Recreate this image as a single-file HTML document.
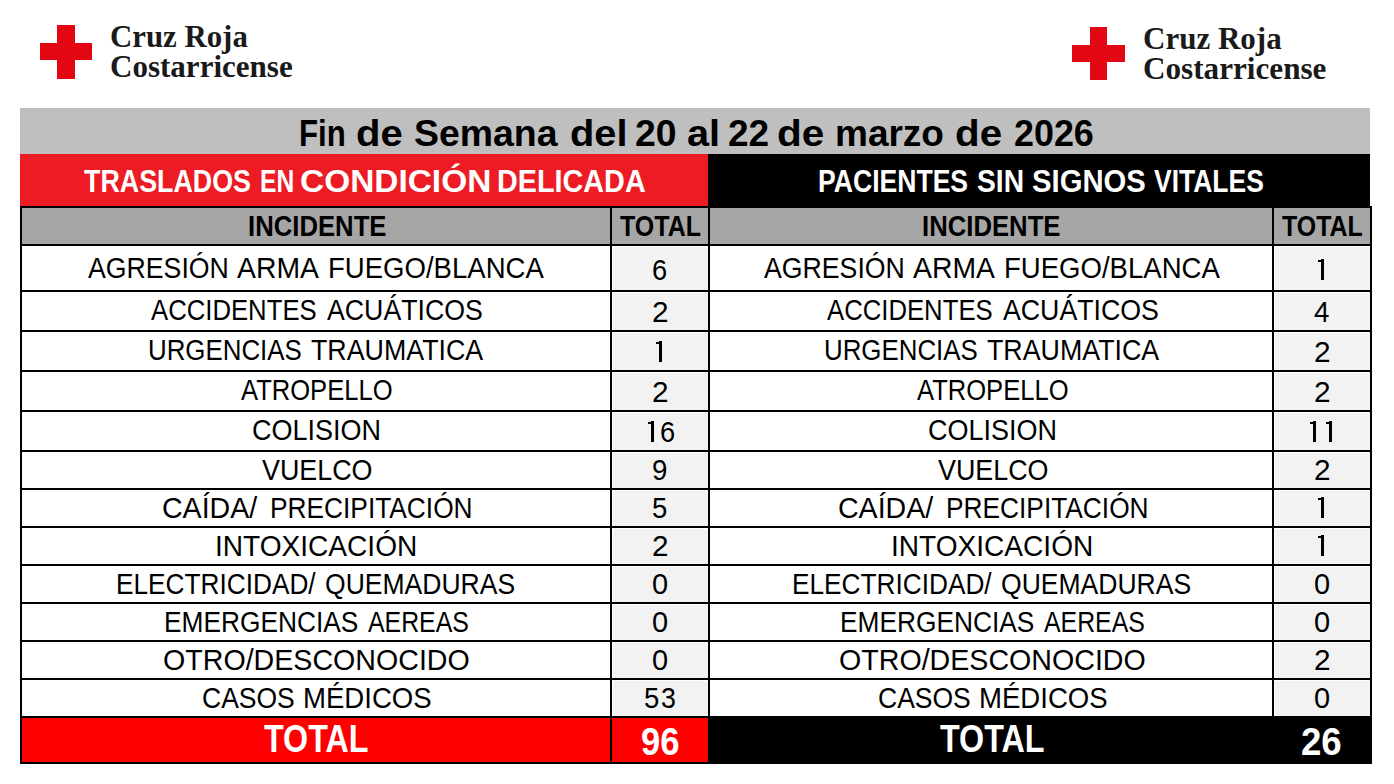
<!DOCTYPE html>
<html><head><meta charset="utf-8"><title>Cruz Roja</title>
<style>
html,body{margin:0;padding:0;background:#fff}
body{width:1394px;height:784px;position:relative;overflow:hidden;font-family:"Liberation Sans", sans-serif}
.r{position:absolute}
.t{position:absolute;white-space:nowrap;transform-origin:0 0}
</style></head><body>
<div class="r" style="left:20px;top:108px;width:1350px;height:46px;background:#bfbfbf"></div>
<div class="r" style="left:20px;top:154px;width:688px;height:52px;background:#ed1c24"></div>
<div class="r" style="left:708px;top:154px;width:662px;height:52px;background:#000"></div>
<div class="r" style="left:22px;top:208px;width:1348px;height:36px;background:#a6a6a6"></div>
<div class="r" style="left:613px;top:247px;width:95px;height:43px;background:#f2f2f2"></div>
<div class="r" style="left:1275px;top:247px;width:95px;height:43px;background:#f2f2f2"></div>
<div class="r" style="left:613px;top:293px;width:95px;height:37px;background:#f2f2f2"></div>
<div class="r" style="left:1275px;top:293px;width:95px;height:37px;background:#f2f2f2"></div>
<div class="r" style="left:613px;top:333px;width:95px;height:37px;background:#f2f2f2"></div>
<div class="r" style="left:1275px;top:333px;width:95px;height:37px;background:#f2f2f2"></div>
<div class="r" style="left:613px;top:373px;width:95px;height:37px;background:#f2f2f2"></div>
<div class="r" style="left:1275px;top:373px;width:95px;height:37px;background:#f2f2f2"></div>
<div class="r" style="left:613px;top:413px;width:95px;height:37px;background:#f2f2f2"></div>
<div class="r" style="left:1275px;top:413px;width:95px;height:37px;background:#f2f2f2"></div>
<div class="r" style="left:613px;top:453px;width:95px;height:35px;background:#f2f2f2"></div>
<div class="r" style="left:1275px;top:453px;width:95px;height:35px;background:#f2f2f2"></div>
<div class="r" style="left:613px;top:491px;width:95px;height:35px;background:#f2f2f2"></div>
<div class="r" style="left:1275px;top:491px;width:95px;height:35px;background:#f2f2f2"></div>
<div class="r" style="left:613px;top:529px;width:95px;height:35px;background:#f2f2f2"></div>
<div class="r" style="left:1275px;top:529px;width:95px;height:35px;background:#f2f2f2"></div>
<div class="r" style="left:613px;top:567px;width:95px;height:35px;background:#f2f2f2"></div>
<div class="r" style="left:1275px;top:567px;width:95px;height:35px;background:#f2f2f2"></div>
<div class="r" style="left:613px;top:605px;width:95px;height:35px;background:#f2f2f2"></div>
<div class="r" style="left:1275px;top:605px;width:95px;height:35px;background:#f2f2f2"></div>
<div class="r" style="left:613px;top:643px;width:95px;height:35px;background:#f2f2f2"></div>
<div class="r" style="left:1275px;top:643px;width:95px;height:35px;background:#f2f2f2"></div>
<div class="r" style="left:613px;top:681px;width:95px;height:35px;background:#f2f2f2"></div>
<div class="r" style="left:1275px;top:681px;width:95px;height:35px;background:#f2f2f2"></div>
<div class="r" style="left:22px;top:718px;width:686px;height:44px;background:#ff0000"></div>
<div class="r" style="left:708px;top:718px;width:664px;height:46px;background:#000"></div>
<div class="r" style="left:20px;top:244px;width:1352px;height:2px;background:#000"></div>
<div class="r" style="left:20px;top:290px;width:1352px;height:2px;background:#000"></div>
<div class="r" style="left:20px;top:330px;width:1352px;height:2px;background:#000"></div>
<div class="r" style="left:20px;top:370px;width:1352px;height:2px;background:#000"></div>
<div class="r" style="left:20px;top:410px;width:1352px;height:2px;background:#000"></div>
<div class="r" style="left:20px;top:450px;width:1352px;height:2px;background:#000"></div>
<div class="r" style="left:20px;top:488px;width:1352px;height:2px;background:#000"></div>
<div class="r" style="left:20px;top:526px;width:1352px;height:2px;background:#000"></div>
<div class="r" style="left:20px;top:564px;width:1352px;height:2px;background:#000"></div>
<div class="r" style="left:20px;top:602px;width:1352px;height:2px;background:#000"></div>
<div class="r" style="left:20px;top:640px;width:1352px;height:2px;background:#000"></div>
<div class="r" style="left:20px;top:678px;width:1352px;height:2px;background:#000"></div>
<div class="r" style="left:20px;top:716px;width:1352px;height:2px;background:#000"></div>
<div class="r" style="left:20px;top:206px;width:1352px;height:2px;background:#000"></div>
<div class="r" style="left:20px;top:762px;width:1352px;height:2px;background:#000"></div>
<div class="r" style="left:20px;top:206px;width:2px;height:558px;background:#000"></div>
<div class="r" style="left:610px;top:206px;width:2px;height:558px;background:#000"></div>
<div class="r" style="left:708px;top:206px;width:2px;height:558px;background:#000"></div>
<div class="r" style="left:1272px;top:206px;width:2px;height:558px;background:#000"></div>
<div class="r" style="left:1370px;top:206px;width:2px;height:558px;background:#000"></div>
<div class="r" style="left:1320.78px;top:259.40px;width:3.0px;height:20.6px;background:#000"></div>
<div class="r" style="left:1317.97px;top:259.70px;width:3.0px;height:2.6px;background:#000"></div>
<div class="r" style="left:658.77px;top:341.40px;width:3.0px;height:20.6px;background:#000"></div>
<div class="r" style="left:655.98px;top:341.70px;width:3.0px;height:2.6px;background:#000"></div>
<div class="r" style="left:650.65px;top:421.40px;width:3.0px;height:20.6px;background:#000"></div>
<div class="r" style="left:647.85px;top:421.70px;width:3.0px;height:2.6px;background:#000"></div>
<div class="r" style="left:1312.65px;top:421.40px;width:3.0px;height:20.6px;background:#000"></div>
<div class="r" style="left:1309.85px;top:421.70px;width:3.0px;height:2.6px;background:#000"></div>
<div class="r" style="left:1328.90px;top:421.40px;width:3.0px;height:20.6px;background:#000"></div>
<div class="r" style="left:1326.10px;top:421.70px;width:3.0px;height:2.6px;background:#000"></div>
<div class="r" style="left:1320.78px;top:497.40px;width:3.0px;height:20.6px;background:#000"></div>
<div class="r" style="left:1317.97px;top:497.70px;width:3.0px;height:2.6px;background:#000"></div>
<div class="r" style="left:1320.78px;top:535.40px;width:3.0px;height:20.6px;background:#000"></div>
<div class="r" style="left:1317.97px;top:535.70px;width:3.0px;height:2.6px;background:#000"></div>
<div class="r" style="left:40px;top:43px;width:52px;height:17px;background:#e30613"></div>
<div class="r" style="left:57px;top:25px;width:18px;height:54px;background:#e30613"></div>
<div class="r" style="left:1072px;top:45px;width:53px;height:17px;background:#e30613"></div>
<div class="r" style="left:1090px;top:27px;width:17px;height:53px;background:#e30613"></div>
<div class="t" style="left:110.27px;top:20.38px;font-size:32.12px;line-height:32.12px;font-weight:700;font-family:'Liberation Serif', serif;color:#1a1a1a;transform:scaleX(0.9598)">Cruz Roja</div>
<div class="t" style="left:110.26px;top:50.48px;font-size:32.12px;line-height:32.12px;font-weight:700;font-family:'Liberation Serif', serif;color:#1a1a1a;transform:scaleX(0.9667)">Costarricense</div>
<div class="t" style="left:1143.06px;top:23.38px;font-size:31.97px;line-height:31.97px;font-weight:700;font-family:'Liberation Serif', serif;color:#1a1a1a;transform:scaleX(0.9700)">Cruz Roja</div>
<div class="t" style="left:1143.05px;top:53.48px;font-size:31.82px;line-height:31.82px;font-weight:700;font-family:'Liberation Serif', serif;color:#1a1a1a;transform:scaleX(0.9796)">Costarricense</div>
<div class="t" style="left:298.53px;top:116.00px;font-size:36.86px;line-height:36.86px;font-weight:700;font-family:'Liberation Sans', sans-serif;color:#000;transform:scaleX(0.8462)">Fin</div>
<div class="t" style="left:355.80px;top:116.00px;font-size:36.86px;line-height:36.86px;font-weight:700;font-family:'Liberation Sans', sans-serif;color:#000;transform:scaleX(1.0869)">de</div>
<div class="t" style="left:413.95px;top:116.00px;font-size:36.86px;line-height:36.86px;font-weight:700;font-family:'Liberation Sans', sans-serif;color:#000;transform:scaleX(1.0153)">Semana</div>
<div class="t" style="left:570.21px;top:116.00px;font-size:36.86px;line-height:36.86px;font-weight:700;font-family:'Liberation Sans', sans-serif;color:#000;transform:scaleX(1.0796)">del</div>
<div class="t" style="left:635.18px;top:116.00px;font-size:36.86px;line-height:36.86px;font-weight:700;font-family:'Liberation Sans', sans-serif;color:#000;transform:scaleX(1.0141)">20</div>
<div class="t" style="left:686.61px;top:116.00px;font-size:36.86px;line-height:36.86px;font-weight:700;font-family:'Liberation Sans', sans-serif;color:#000;transform:scaleX(1.0763)">al</div>
<div class="t" style="left:727.59px;top:116.00px;font-size:36.86px;line-height:36.86px;font-weight:700;font-family:'Liberation Sans', sans-serif;color:#000;transform:scaleX(1.0037)">22</div>
<div class="t" style="left:777.38px;top:116.00px;font-size:36.86px;line-height:36.86px;font-weight:700;font-family:'Liberation Sans', sans-serif;color:#000;transform:scaleX(1.0992)">de</div>
<div class="t" style="left:835.48px;top:116.00px;font-size:36.86px;line-height:36.86px;font-weight:700;font-family:'Liberation Sans', sans-serif;color:#000;transform:scaleX(1.0037)">marzo</div>
<div class="t" style="left:955.39px;top:116.00px;font-size:36.86px;line-height:36.86px;font-weight:700;font-family:'Liberation Sans', sans-serif;color:#000;transform:scaleX(1.0943)">de</div>
<div class="t" style="left:1013.92px;top:116.00px;font-size:36.86px;line-height:36.86px;font-weight:700;font-family:'Liberation Sans', sans-serif;color:#000;transform:scaleX(0.9729)">2026</div>
<div class="t" style="left:84.43px;top:165.70px;font-size:31.00px;line-height:31.00px;font-weight:700;font-family:'Liberation Sans', sans-serif;color:#fff;transform:scaleX(0.8656)">TRASLADOS</div>
<div class="t" style="left:259.62px;top:165.70px;font-size:31.00px;line-height:31.00px;font-weight:700;font-family:'Liberation Sans', sans-serif;color:#fff;transform:scaleX(0.7944)">EN</div>
<div class="t" style="left:299.56px;top:165.70px;font-size:31.00px;line-height:31.00px;font-weight:700;font-family:'Liberation Sans', sans-serif;color:#fff;transform:scaleX(1.0785)">CONDICIÓN</div>
<div class="t" style="left:497.37px;top:165.70px;font-size:31.00px;line-height:31.00px;font-weight:700;font-family:'Liberation Sans', sans-serif;color:#fff;transform:scaleX(0.9282)">DELICADA</div>
<div class="t" style="left:818.41px;top:166.80px;font-size:30.86px;line-height:30.86px;font-weight:700;font-family:'Liberation Sans', sans-serif;color:#fff;transform:scaleX(0.8610)">PACIENTES</div>
<div class="t" style="left:977.34px;top:166.80px;font-size:30.86px;line-height:30.86px;font-weight:700;font-family:'Liberation Sans', sans-serif;color:#fff;transform:scaleX(0.9141)">SIN</div>
<div class="t" style="left:1031.82px;top:166.80px;font-size:30.86px;line-height:30.86px;font-weight:700;font-family:'Liberation Sans', sans-serif;color:#fff;transform:scaleX(0.9479)">SIGNOS</div>
<div class="t" style="left:1154.00px;top:166.80px;font-size:30.86px;line-height:30.86px;font-weight:700;font-family:'Liberation Sans', sans-serif;color:#fff;transform:scaleX(0.8576)">VITALES</div>
<div class="t" style="left:248.26px;top:211.80px;font-size:29.00px;line-height:29.00px;font-weight:700;font-family:'Liberation Sans', sans-serif;color:#000;transform:scaleX(0.8862)">INCIDENTE</div>
<div class="t" style="left:619.75px;top:212.00px;font-size:29.14px;line-height:29.14px;font-weight:700;font-family:'Liberation Sans', sans-serif;color:#000;transform:scaleX(0.8575)">TOTAL</div>
<div class="t" style="left:922.26px;top:211.80px;font-size:29.00px;line-height:29.00px;font-weight:700;font-family:'Liberation Sans', sans-serif;color:#000;transform:scaleX(0.8862)">INCIDENTE</div>
<div class="t" style="left:1281.75px;top:211.00px;font-size:29.29px;line-height:29.29px;font-weight:700;font-family:'Liberation Sans', sans-serif;color:#000;transform:scaleX(0.8512)">TOTAL</div>
<div class="t" style="left:88.40px;top:253.00px;font-size:29.42px;line-height:29.42px;font-weight:400;font-family:'Liberation Sans', sans-serif;color:#000;transform:scaleX(0.9074)">AGRESIÓN</div>
<div class="t" style="left:764.40px;top:253.00px;font-size:29.42px;line-height:29.42px;font-weight:400;font-family:'Liberation Sans', sans-serif;color:#000;transform:scaleX(0.9074)">AGRESIÓN</div>
<div class="t" style="left:236.70px;top:253.00px;font-size:29.42px;line-height:29.42px;font-weight:400;font-family:'Liberation Sans', sans-serif;color:#000;transform:scaleX(0.9649)">ARMA</div>
<div class="t" style="left:912.70px;top:253.00px;font-size:29.42px;line-height:29.42px;font-weight:400;font-family:'Liberation Sans', sans-serif;color:#000;transform:scaleX(0.9649)">ARMA</div>
<div class="t" style="left:327.80px;top:253.00px;font-size:29.42px;line-height:29.42px;font-weight:400;font-family:'Liberation Sans', sans-serif;color:#000;transform:scaleX(0.9367)">FUEGO/BLANCA</div>
<div class="t" style="left:1003.80px;top:253.00px;font-size:29.42px;line-height:29.42px;font-weight:400;font-family:'Liberation Sans', sans-serif;color:#000;transform:scaleX(0.9367)">FUEGO/BLANCA</div>
<div class="t" style="left:652.31px;top:255.00px;font-size:29.86px;line-height:29.86px;font-weight:400;font-family:'Liberation Sans', sans-serif;color:#000;transform:scaleX(0.9122)">6</div>
<div class="t" style="left:150.80px;top:295.00px;font-size:29.42px;line-height:29.42px;font-weight:400;font-family:'Liberation Sans', sans-serif;color:#000;transform:scaleX(0.8741)">ACCIDENTES</div>
<div class="t" style="left:826.80px;top:295.00px;font-size:29.42px;line-height:29.42px;font-weight:400;font-family:'Liberation Sans', sans-serif;color:#000;transform:scaleX(0.8741)">ACCIDENTES</div>
<div class="t" style="left:327.20px;top:295.00px;font-size:29.42px;line-height:29.42px;font-weight:400;font-family:'Liberation Sans', sans-serif;color:#000;transform:scaleX(0.9088)">ACUÁTICOS</div>
<div class="t" style="left:1003.20px;top:295.00px;font-size:29.42px;line-height:29.42px;font-weight:400;font-family:'Liberation Sans', sans-serif;color:#000;transform:scaleX(0.9088)">ACUÁTICOS</div>
<div class="t" style="left:651.59px;top:297.00px;font-size:29.86px;line-height:29.86px;font-weight:400;font-family:'Liberation Sans', sans-serif;color:#000;transform:scaleX(0.9976)">2</div>
<div class="t" style="left:1314.32px;top:297.00px;font-size:29.86px;line-height:29.86px;font-weight:400;font-family:'Liberation Sans', sans-serif;color:#000;transform:scaleX(0.9260)">4</div>
<div class="t" style="left:148.49px;top:335.00px;font-size:29.42px;line-height:29.42px;font-weight:400;font-family:'Liberation Sans', sans-serif;color:#000;transform:scaleX(0.8797)">URGENCIAS</div>
<div class="t" style="left:824.49px;top:335.00px;font-size:29.42px;line-height:29.42px;font-weight:400;font-family:'Liberation Sans', sans-serif;color:#000;transform:scaleX(0.8797)">URGENCIAS</div>
<div class="t" style="left:311.16px;top:335.00px;font-size:29.42px;line-height:29.42px;font-weight:400;font-family:'Liberation Sans', sans-serif;color:#000;transform:scaleX(0.9112)">TRAUMATICA</div>
<div class="t" style="left:987.16px;top:335.00px;font-size:29.42px;line-height:29.42px;font-weight:400;font-family:'Liberation Sans', sans-serif;color:#000;transform:scaleX(0.9112)">TRAUMATICA</div>
<div class="t" style="left:1313.59px;top:337.00px;font-size:29.86px;line-height:29.86px;font-weight:400;font-family:'Liberation Sans', sans-serif;color:#000;transform:scaleX(0.9976)">2</div>
<div class="t" style="left:241.00px;top:375.00px;font-size:29.42px;line-height:29.42px;font-weight:400;font-family:'Liberation Sans', sans-serif;color:#000;transform:scaleX(0.8694)">ATROPELLO</div>
<div class="t" style="left:917.00px;top:375.00px;font-size:29.42px;line-height:29.42px;font-weight:400;font-family:'Liberation Sans', sans-serif;color:#000;transform:scaleX(0.8694)">ATROPELLO</div>
<div class="t" style="left:651.59px;top:377.00px;font-size:29.86px;line-height:29.86px;font-weight:400;font-family:'Liberation Sans', sans-serif;color:#000;transform:scaleX(0.9976)">2</div>
<div class="t" style="left:1313.59px;top:377.00px;font-size:29.86px;line-height:29.86px;font-weight:400;font-family:'Liberation Sans', sans-serif;color:#000;transform:scaleX(0.9976)">2</div>
<div class="t" style="left:251.95px;top:415.00px;font-size:29.42px;line-height:29.42px;font-weight:400;font-family:'Liberation Sans', sans-serif;color:#000;transform:scaleX(0.9175)">COLISION</div>
<div class="t" style="left:927.95px;top:415.00px;font-size:29.42px;line-height:29.42px;font-weight:400;font-family:'Liberation Sans', sans-serif;color:#000;transform:scaleX(0.9175)">COLISION</div>
<div class="t" style="left:660.44px;top:417.00px;font-size:29.86px;line-height:29.86px;font-weight:400;font-family:'Liberation Sans', sans-serif;color:#000;transform:scaleX(0.9122)">6</div>
<div class="t" style="left:261.60px;top:455.00px;font-size:29.42px;line-height:29.42px;font-weight:400;font-family:'Liberation Sans', sans-serif;color:#000;transform:scaleX(0.9140)">VUELCO</div>
<div class="t" style="left:937.60px;top:455.00px;font-size:29.42px;line-height:29.42px;font-weight:400;font-family:'Liberation Sans', sans-serif;color:#000;transform:scaleX(0.9140)">VUELCO</div>
<div class="t" style="left:652.07px;top:455.00px;font-size:29.86px;line-height:29.86px;font-weight:400;font-family:'Liberation Sans', sans-serif;color:#000;transform:scaleX(0.9265)">9</div>
<div class="t" style="left:1313.59px;top:455.00px;font-size:29.86px;line-height:29.86px;font-weight:400;font-family:'Liberation Sans', sans-serif;color:#000;transform:scaleX(0.9976)">2</div>
<div class="t" style="left:161.97px;top:493.00px;font-size:29.42px;line-height:29.42px;font-weight:400;font-family:'Liberation Sans', sans-serif;color:#000;transform:scaleX(0.9712)">CAÍDA/</div>
<div class="t" style="left:837.97px;top:493.00px;font-size:29.42px;line-height:29.42px;font-weight:400;font-family:'Liberation Sans', sans-serif;color:#000;transform:scaleX(0.9712)">CAÍDA/</div>
<div class="t" style="left:269.90px;top:493.00px;font-size:29.42px;line-height:29.42px;font-weight:400;font-family:'Liberation Sans', sans-serif;color:#000;transform:scaleX(0.8943)">PRECIPITACIÓN</div>
<div class="t" style="left:945.90px;top:493.00px;font-size:29.42px;line-height:29.42px;font-weight:400;font-family:'Liberation Sans', sans-serif;color:#000;transform:scaleX(0.8943)">PRECIPITACIÓN</div>
<div class="t" style="left:652.07px;top:493.00px;font-size:29.86px;line-height:29.86px;font-weight:400;font-family:'Liberation Sans', sans-serif;color:#000;transform:scaleX(0.9211)">5</div>
<div class="t" style="left:214.77px;top:531.00px;font-size:29.42px;line-height:29.42px;font-weight:400;font-family:'Liberation Sans', sans-serif;color:#000;transform:scaleX(0.9547)">INTOXICACIÓN</div>
<div class="t" style="left:890.77px;top:531.00px;font-size:29.42px;line-height:29.42px;font-weight:400;font-family:'Liberation Sans', sans-serif;color:#000;transform:scaleX(0.9547)">INTOXICACIÓN</div>
<div class="t" style="left:651.59px;top:531.00px;font-size:29.86px;line-height:29.86px;font-weight:400;font-family:'Liberation Sans', sans-serif;color:#000;transform:scaleX(0.9976)">2</div>
<div class="t" style="left:116.10px;top:569.00px;font-size:29.42px;line-height:29.42px;font-weight:400;font-family:'Liberation Sans', sans-serif;color:#000;transform:scaleX(0.8919)">ELECTRICIDAD/</div>
<div class="t" style="left:792.10px;top:569.00px;font-size:29.42px;line-height:29.42px;font-weight:400;font-family:'Liberation Sans', sans-serif;color:#000;transform:scaleX(0.8919)">ELECTRICIDAD/</div>
<div class="t" style="left:325.14px;top:569.00px;font-size:29.42px;line-height:29.42px;font-weight:400;font-family:'Liberation Sans', sans-serif;color:#000;transform:scaleX(0.9022)">QUEMADURAS</div>
<div class="t" style="left:1001.14px;top:569.00px;font-size:29.42px;line-height:29.42px;font-weight:400;font-family:'Liberation Sans', sans-serif;color:#000;transform:scaleX(0.9022)">QUEMADURAS</div>
<div class="t" style="left:651.81px;top:569.00px;font-size:29.86px;line-height:29.86px;font-weight:400;font-family:'Liberation Sans', sans-serif;color:#000;transform:scaleX(0.9707)">0</div>
<div class="t" style="left:1313.81px;top:569.00px;font-size:29.86px;line-height:29.86px;font-weight:400;font-family:'Liberation Sans', sans-serif;color:#000;transform:scaleX(0.9707)">0</div>
<div class="t" style="left:163.79px;top:607.00px;font-size:29.42px;line-height:29.42px;font-weight:400;font-family:'Liberation Sans', sans-serif;color:#000;transform:scaleX(0.8945)">EMERGENCIAS</div>
<div class="t" style="left:839.79px;top:607.00px;font-size:29.42px;line-height:29.42px;font-weight:400;font-family:'Liberation Sans', sans-serif;color:#000;transform:scaleX(0.8945)">EMERGENCIAS</div>
<div class="t" style="left:368.30px;top:607.00px;font-size:29.42px;line-height:29.42px;font-weight:400;font-family:'Liberation Sans', sans-serif;color:#000;transform:scaleX(0.8455)">AEREAS</div>
<div class="t" style="left:1044.30px;top:607.00px;font-size:29.42px;line-height:29.42px;font-weight:400;font-family:'Liberation Sans', sans-serif;color:#000;transform:scaleX(0.8455)">AEREAS</div>
<div class="t" style="left:651.81px;top:607.00px;font-size:29.86px;line-height:29.86px;font-weight:400;font-family:'Liberation Sans', sans-serif;color:#000;transform:scaleX(0.9707)">0</div>
<div class="t" style="left:1313.81px;top:607.00px;font-size:29.86px;line-height:29.86px;font-weight:400;font-family:'Liberation Sans', sans-serif;color:#000;transform:scaleX(0.9707)">0</div>
<div class="t" style="left:162.86px;top:645.00px;font-size:29.42px;line-height:29.42px;font-weight:400;font-family:'Liberation Sans', sans-serif;color:#000;transform:scaleX(0.9729)">OTRO/DESCONOCIDO</div>
<div class="t" style="left:838.86px;top:645.00px;font-size:29.42px;line-height:29.42px;font-weight:400;font-family:'Liberation Sans', sans-serif;color:#000;transform:scaleX(0.9729)">OTRO/DESCONOCIDO</div>
<div class="t" style="left:651.81px;top:645.00px;font-size:29.86px;line-height:29.86px;font-weight:400;font-family:'Liberation Sans', sans-serif;color:#000;transform:scaleX(0.9707)">0</div>
<div class="t" style="left:1313.59px;top:645.00px;font-size:29.86px;line-height:29.86px;font-weight:400;font-family:'Liberation Sans', sans-serif;color:#000;transform:scaleX(0.9976)">2</div>
<div class="t" style="left:202.17px;top:683.00px;font-size:29.42px;line-height:29.42px;font-weight:400;font-family:'Liberation Sans', sans-serif;color:#000;transform:scaleX(0.9010)">CASOS</div>
<div class="t" style="left:878.17px;top:683.00px;font-size:29.42px;line-height:29.42px;font-weight:400;font-family:'Liberation Sans', sans-serif;color:#000;transform:scaleX(0.9010)">CASOS</div>
<div class="t" style="left:302.59px;top:683.00px;font-size:29.42px;line-height:29.42px;font-weight:400;font-family:'Liberation Sans', sans-serif;color:#000;transform:scaleX(0.9375)">MÉDICOS</div>
<div class="t" style="left:978.59px;top:683.00px;font-size:29.42px;line-height:29.42px;font-weight:400;font-family:'Liberation Sans', sans-serif;color:#000;transform:scaleX(0.9375)">MÉDICOS</div>
<div class="t" style="left:643.95px;top:683.00px;font-size:29.86px;line-height:29.86px;font-weight:400;font-family:'Liberation Sans', sans-serif;color:#000;transform:scaleX(0.9211)">5</div>
<div class="t" style="left:660.50px;top:683.00px;font-size:29.86px;line-height:29.86px;font-weight:400;font-family:'Liberation Sans', sans-serif;color:#000;transform:scaleX(0.8955)">3</div>
<div class="t" style="left:1313.81px;top:683.00px;font-size:29.86px;line-height:29.86px;font-weight:400;font-family:'Liberation Sans', sans-serif;color:#000;transform:scaleX(0.9707)">0</div>
<div class="t" style="left:263.68px;top:720.00px;font-size:38.29px;line-height:38.29px;font-weight:700;font-family:'Liberation Sans', sans-serif;color:#fff;transform:scaleX(0.8423)">TOTAL</div>
<div class="t" style="left:939.78px;top:719.90px;font-size:38.00px;line-height:38.00px;font-weight:700;font-family:'Liberation Sans', sans-serif;color:#fff;transform:scaleX(0.8487)">TOTAL</div>
<div class="t" style="left:640.86px;top:721.60px;font-size:39.43px;line-height:39.43px;font-weight:700;font-family:'Liberation Sans', sans-serif;color:#fff;transform:scaleX(0.8776)">96</div>
<div class="t" style="left:1301.10px;top:721.60px;font-size:39.43px;line-height:39.43px;font-weight:700;font-family:'Liberation Sans', sans-serif;color:#fff;transform:scaleX(0.9285)">26</div>
</body></html>
